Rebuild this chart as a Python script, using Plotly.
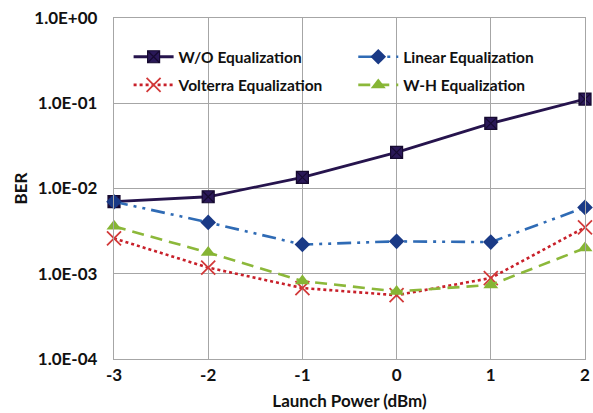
import plotly.graph_objects as go

# Launch power sweep (dBm)
launch_power = [-3, -2, -1, 0, 1, 2]
x_tick_text = ["-3", "-2", "-1", "0", "1", "2"]

# BER per equalization scheme
ber_wo = [7.0e-3, 8.0e-3, 1.35e-2, 2.65e-2, 5.8e-2, 1.12e-1]
ber_linear = [7.0e-3, 4.0e-3, 2.2e-3, 2.4e-3, 2.35e-3, 6.0e-3]
ber_volterra = [2.6e-3, 1.18e-3, 6.8e-4, 5.6e-4, 8.9e-4, 3.5e-3]
ber_wh = [3.6e-3, 1.77e-3, 8.2e-4, 6.2e-4, 7.4e-4, 2.0e-3]

y_tick_vals = [1e-4, 1e-3, 1e-2, 1e-1, 1e0]
y_tick_text = ["1.0E-04", "1.0E-03", "1.0E-02", "1.0E-01", "1.0E+00"]

FONT = "Lato, 'Open Sans', sans-serif"
AXIS_FONT = dict(family=FONT, size=17, color="#111111", weight="bold")

fig = go.Figure()

fig.add_trace(go.Scatter(
    x=launch_power, y=ber_wo, name="W/O Equalization", mode="lines+markers",
    line=dict(color="#26144d", width=2.8),
    marker=dict(symbol="square-x", size=12, color="#2a1858",
                line=dict(color="#160a30", width=1.2)),
    legend="legend", legendgroup="wo", cliponaxis=False,
))
fig.add_trace(go.Scatter(
    x=launch_power, y=ber_linear, name="Linear Equalization", mode="lines+markers",
    line=dict(color="#2f6bb5", width=2.6, dash="14px,6px,3px,6px,3px,6px"),
    marker=dict(symbol="diamond", size=12, color="#1a3a86"),
    legend="legend2", legendgroup="lin", cliponaxis=False,
))
fig.add_trace(go.Scatter(
    x=launch_power, y=ber_volterra, name="Volterra Equalization", mode="lines+markers",
    line=dict(color="#c8202a", width=2.6, dash="dot"),
    marker=dict(symbol="x-thin", size=14, color="#d23a3a",
                line=dict(color="#d23a3a", width=1.8)),
    legend="legend", legendgroup="vol", cliponaxis=False,
))
fig.add_trace(go.Scatter(
    x=launch_power, y=ber_wh, name="W-H Equalization", mode="lines+markers",
    line=dict(color="#8cb83a", width=2.6, dash="12px,7px"),
    marker=dict(symbol="triangle-up", size=13, color="#86b534"),
    legend="legend2", legendgroup="wh", cliponaxis=False,
))

legend_style = dict(
    orientation="v", yanchor="top", xanchor="left", y=0.935,
    bgcolor="rgba(0,0,0,0)", itemwidth=40, tracegroupgap=5,
    font=dict(family=FONT, size=15.5, color="#111111", weight="bold"),
)

fig.update_layout(
    width=593, height=413,
    margin=dict(l=114, r=8, t=18, b=54),
    paper_bgcolor="white", plot_bgcolor="white",
    font=dict(family=FONT, size=15, color="#111111"),
    showlegend=True,
    legend=dict(x=0.031, **legend_style),
    legend2=dict(x=0.508, **legend_style),
    xaxis=dict(
        range=[-3, 2], tickvals=launch_power, ticktext=x_tick_text, ticks="",
        showgrid=True, gridcolor="#a6a6a6", gridwidth=1.3,
        showline=True, linecolor="#a6a6a6", linewidth=1.3, mirror=True,
        zeroline=False, ticklabelstandoff=0, automargin=False,
        tickfont=AXIS_FONT,
        title=dict(text="Launch Power (dBm)", standoff=11, font=AXIS_FONT),
    ),
    yaxis=dict(
        type="log", range=[-4, 0], tickvals=y_tick_vals, ticktext=y_tick_text,
        ticks="", showgrid=True, gridcolor="#a6a6a6", gridwidth=1.3,
        showline=True, linecolor="#a6a6a6", linewidth=1.3, mirror=True,
        zeroline=False, ticklabelstandoff=12, automargin=False,
        tickfont=AXIS_FONT,
        title=dict(text="BER", standoff=2, font=AXIS_FONT),
    ),
)

fig.write_html("out.html")
